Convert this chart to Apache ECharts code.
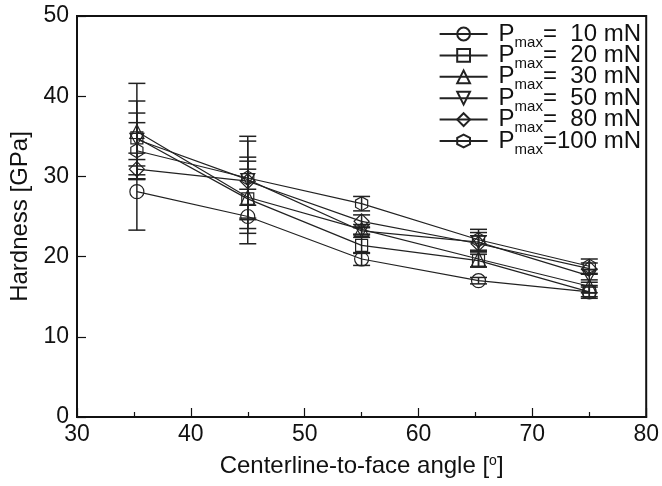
<!DOCTYPE html>
<html>
<head>
<meta charset="utf-8">
<script src="https://cdn.jsdelivr.net/npm/echarts@6/dist/echarts.min.js"></script>
<style>html,body{margin:0;padding:0;background:#fff}#c{width:662px;height:486px}</style>
</head>
<body>
<div id="c"></div>
<script>
const angles = [35.26, 45, 55, 65.27, 75];
const loads = ['10', '20', '30', '50', '80', '100'];
const h10 = [28.1, 25.0, 19.7, 17.0, 15.6];
const h20 = [34.8, 27.2, 21.4, 19.5, 15.6];
const h30 = [35.6, 27.4, 23.4, 19.7, 16.3];
const h50 = [34.6, 29.6, 23.2, 21.8, 17.6];
const h80 = [30.9, 29.4, 24.4, 21.6, 18.5];
const h100 = [33.2, 29.8, 26.6, 22.1, 18.8];
const e10 = [4.8, 3.4, 0.8, 0.4, 0.8];
const e20 = [4.6, 3.7, 1.0, 0.8, 0.6];
const e30 = [6.0, 4.5, 0.6, 1.0, 0.8];
const e50 = [3.3, 4.8, 0.5, 1.2, 0.8];
const e80 = [1.2, 3.0, 0.8, 1.0, 0.7];
const e100 = [3.5, 5.2, 0.9, 1.3, 0.9];
const xTicks = [30, 40, 50, 60, 70, 80];
const yTicks = [0, 10, 20, 30, 40, 50];

const values = [h10, h20, h30, h50, h80, h100];
const errors = [e10, e20, e30, e50, e80, e100];
const symbols = [
  'circle',
  'rect',
  'triangle',
  'path://M0,0 L10,0 L5,8.66 Z',
  'diamond',
  'path://M5,0 L9.33,2.5 L9.33,7.5 L5,10 L0.67,7.5 L0.67,2.5 Z'
];
const symSizes = [14, 12, 14, 14, 15, 14];
const ink = '#222';

const series = [];
loads.forEach((ld, i) => {
  series.push({
    type: 'custom',
    silent: true,
    z: 1,
    renderItem: function (params, api) {
      const x = api.value(0), lo = api.value(1), hi = api.value(2);
      const p1 = api.coord([x, lo]);
      const p2 = api.coord([x, hi]);
      const w = 8.5;
      const st = { stroke: ink, lineWidth: 1.5 };
      return {
        type: 'group',
        children: [
          { type: 'line', shape: { x1: p1[0], y1: p1[1], x2: p2[0], y2: p2[1] }, style: st },
          { type: 'line', shape: { x1: p1[0] - w, y1: p1[1], x2: p1[0] + w, y2: p1[1] }, style: st },
          { type: 'line', shape: { x1: p2[0] - w, y1: p2[1], x2: p2[0] + w, y2: p2[1] }, style: st }
        ]
      };
    },
    data: angles.map((a, k) => [a, values[i][k] - errors[i][k], values[i][k] + errors[i][k]])
  });
  series.push({
    name: ld,
    type: 'line',
    z: 3,
    symbol: symbols[i],
    symbolSize: symSizes[i],
    symbolKeepAspect: true,
    showAllSymbol: true,
    lineStyle: { color: ink, width: 1.2 },
    itemStyle: { color: 'rgba(255,255,255,0)', borderColor: ink, borderWidth: 1.2 },
    emphasis: { disabled: true },
    data: angles.map((a, k) => [a, values[i][k]])
  });
});

const chart = echarts.init(document.getElementById('c'), null, { renderer: 'canvas' });
chart.setOption({
  animation: false,
  backgroundColor: '#fff',
  textStyle: { fontFamily: 'Liberation Sans, Arial, sans-serif', color: '#111' },
  grid: { left: 77, right: 10, top: 16, bottom: 69, show: true, borderColor: '#111', borderWidth: 2, backgroundColor: 'transparent' },
  legend: {
    orient: 'vertical',
    right: 16,
    top: 13,
    itemWidth: 48,
    itemHeight: 16,
    itemGap: -10.6,
    data: loads,
    textStyle: {
      color: '#111',
      rich: {
        p0: { fontSize: 24, lineHeight: 24, fontFamily: 'Liberation Sans', color: '#111', padding: [0, 0, 0, 6] },
        p: { fontSize: 24, lineHeight: 24, fontFamily: 'Liberation Sans', color: '#111' },
        s: { fontSize: 15, lineHeight: 15, fontFamily: 'Liberation Sans', color: '#111', padding: [17, 0, 0, 0] }
      }
    },
    formatter: function (n) {
      const pad = n.length < 3 ? '  ' : '';
      return '{p0|P}{s|max}{p|=' + pad + n + ' mN}';
    }
  },
  xAxis: {
    type: 'value',
    min: 30, max: 80, interval: 10,
    name: 'Centerline-to-face angle [{sup|o}]',
    nameLocation: 'middle',
    nameGap: 37,
    nameTextStyle: {
      fontSize: 24, color: '#111', fontFamily: 'Liberation Sans',
      rich: { sup: { fontSize: 14, color: '#111', fontFamily: 'Liberation Sans', padding: [0, 0, 11, 0] } }
    },
    axisLine: { show: true, lineStyle: { color: '#111', width: 2 } },
    axisTick: { show: true, inside: true, length: 9, lineStyle: { color: '#111', width: 1.2 } },
    minorTick: { show: true, splitNumber: 2, length: 5, lineStyle: { color: '#111', width: 1.2 } },
    axisLabel: { fontSize: 23, color: '#111', margin: 6, fontFamily: 'Liberation Sans' },
    splitLine: { show: false }
  },
  yAxis: {
    type: 'value',
    min: 0, max: 50, interval: 10,
    name: 'Hardness [GPa]',
    nameLocation: 'middle',
    nameGap: 45,
    nameTextStyle: { fontSize: 24, color: '#111', fontFamily: 'Liberation Sans' },
    axisLine: { show: true, lineStyle: { color: '#111', width: 2 } },
    axisTick: { show: true, inside: true, length: 9, lineStyle: { color: '#111', width: 1.2 } },
    axisLabel: { fontSize: 23, color: '#111', margin: 8, fontFamily: 'Liberation Sans' },
    splitLine: { show: false }
  },
  series: series
});
</script>
</body>
</html>
